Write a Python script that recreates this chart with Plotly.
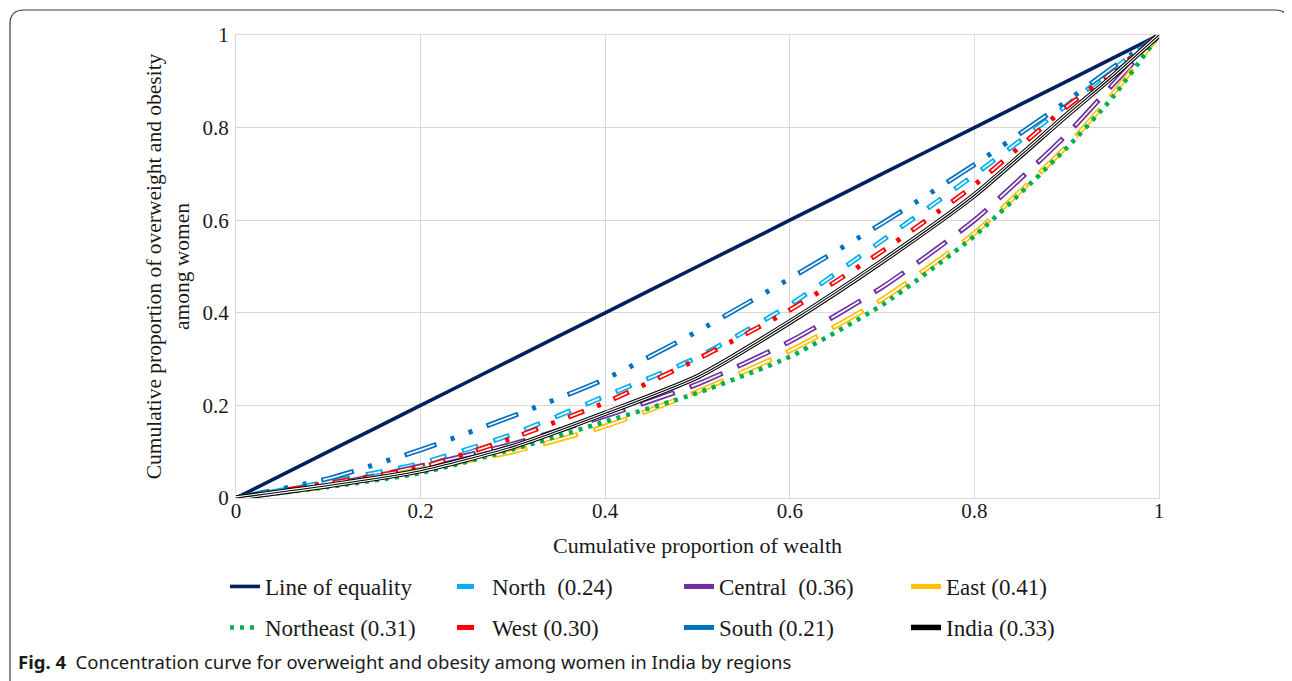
import plotly.graph_objects as go

# ---- data ----
wealth = [0, 0.1, 0.2, 0.3, 0.4, 0.5, 0.6, 0.7, 0.8, 0.9, 0.95, 1.0]
equality = [0, 0.1, 0.2, 0.3, 0.4, 0.5, 0.6, 0.7, 0.8, 0.9, 0.95, 1.0]
north = [0, 0.035, 0.075, 0.138, 0.220, 0.304, 0.417, 0.556, 0.698, 0.848, 0.925, 1.0]
central = [0, 0.028, 0.069, 0.117, 0.177, 0.246, 0.338, 0.455, 0.600, 0.785, 0.893, 1.0]
east = [0, 0.026, 0.062, 0.100, 0.155, 0.230, 0.318, 0.429, 0.572, 0.760, 0.873, 1.0]
northeast = [0, 0.024, 0.054, 0.105, 0.165, 0.227, 0.305, 0.417, 0.566, 0.756, 0.866, 1.0]
west = [0, 0.032, 0.066, 0.130, 0.206, 0.300, 0.406, 0.533, 0.676, 0.845, 0.920, 1.0]
south = [0, 0.042, 0.104, 0.177, 0.257, 0.360, 0.474, 0.593, 0.720, 0.857, 0.930, 1.0]
india = [0, 0.027, 0.059, 0.111, 0.183, 0.262, 0.380, 0.511, 0.654, 0.827, 0.911, 1.0]

series_names = ["Line of equality", "North\u00a0 (0.24)", "Central\u00a0 (0.36)", "East (0.41)",
                "Northeast (0.31)", "West (0.30)", "South (0.21)", "India (0.33)"]
series_values = [equality, north, central, east, northeast, west, south, india]

tick_vals = [0, 0.2, 0.4, 0.6, 0.8, 1.0]
tick_text = ["0", "0.2", "0.4", "0.6", "0.8", "1"]

x_title = "Cumulative proportion of wealth" + "\u00a0" * 7
y_title = "Cumulative proportion of overweight and obesity<br>among women"
caption = "<b>Fig. 4</b>\u00a0 Concentration curve for overweight and obesity among women in India by regions"

# ---- styles ----
# (color, width, dash, overlay list [(color, width, dash)], legend id)
styles = [
    ("#002060", 3.6, "solid", [], "legend"),
    ("#00B0F0", 5, "17px,16px", [("white", 1.7, "0px,2px,13px,18px")], "legend"),
    ("#7030A0", 5, "36px,16px", [("white", 1.7, "0px,2px,32px,18px")], "legend"),
    ("#FFC000", 5, "36px,16px", [("white", 1.7, "0px,2px,32px,18px")], "legend"),
    ("#00B050", 4.6, "4px,6px", [], "legend2"),
    ("#FF0000", 5, "17px,14px,4px,14px", [("white", 1.7, "0px,2px,13px,34px")], "legend2"),
    ("#0070C0", 5, "34px,15px,4px,15px,4px,15px", [("white", 1.7, "0px,2px,30px,55px")], "legend2"),
    ("#000000", 5.5, "solid", [("white", 3.4, "solid"), ("#000000", 1.1, "solid")], "legend2"),
]

fig = go.Figure()
for i, (name, vals) in enumerate(zip(series_names, series_values)):
    color, width, dash, overlays, leg = styles[i]
    fig.add_trace(go.Scatter(
        x=wealth, y=vals, name=name, mode="lines", legend=leg, legendgroup=f"g{i}",
        line=dict(color=color, width=width, dash=dash, shape="spline", smoothing=0.6),
        hoverinfo="x+y+name",
    ))
    for (oc, ow, od) in overlays:
        fig.add_trace(go.Scatter(
            x=wealth, y=vals, name=name, mode="lines", legend=leg, legendgroup=f"g{i}",
            showlegend=False, hoverinfo="skip",
            line=dict(color=oc, width=ow, dash=od, shape="spline", smoothing=0.6),
        ))

# ---- layout geometry (page pixels; the page body adds an 8px offset) ----
OFF = 8
W, H = 1292 - OFF, 681 - OFF
PLOT_L, PLOT_R, PLOT_T, PLOT_B = 236, 1159, 35, 498  # page coordinates of plot area
ML, MT = PLOT_L - OFF, PLOT_T - OFF
MR, MB = W - (PLOT_R - OFF), H - (PLOT_B - OFF)
PW, PH = PLOT_R - PLOT_L, PLOT_B - PLOT_T


def px_x(px):
    return (px - PLOT_L) / PW


def px_y(py):
    return (PLOT_B - py) / PH


serif = "Liberation Serif, Times New Roman, serif"
grid = "#D9D9D9"
ink = "#1a1a1a"

legend_common = dict(orientation="h", xanchor="left", yanchor="top",
                     entrywidth=182, entrywidthmode="pixels",
                     font=dict(family=serif, size=23, color=ink),
                     bgcolor="rgba(0,0,0,0)", itemwidth=30, tracegroupgap=0)

fig.update_layout(
    width=W, height=H,
    margin=dict(l=ML, r=MR, t=MT, b=MB, autoexpand=False),
    paper_bgcolor="white", plot_bgcolor="white",
    font=dict(family=serif, size=21, color=ink),
    showlegend=True,
    legend=dict(x=px_x(225), y=px_y(565), **legend_common),
    legend2=dict(x=px_x(225), y=px_y(606), **legend_common),
    xaxis=dict(range=[0, 1], tickvals=tick_vals, ticktext=tick_text, showgrid=True, gridcolor=grid,
               gridwidth=1.3, zeroline=False, showline=True, linecolor=grid, linewidth=1.3, mirror=True,
               ticks="", ticklabelstandoff=-6, tickfont=dict(family=serif, size=21, color=ink),
               title=dict(text=x_title, font=dict(family=serif, size=22, color=ink), standoff=15),
               fixedrange=True),
    yaxis=dict(range=[0, 1], tickvals=tick_vals, ticktext=tick_text, showgrid=True, gridcolor=grid,
               gridwidth=1.3, zeroline=False, showline=True, linecolor=grid, linewidth=1.3, mirror=True,
               ticks="", ticklabelstandoff=2, tickfont=dict(family=serif, size=21, color=ink),
               title=dict(text=y_title, font=dict(family=serif, size=21.5, color=ink), standoff=6),
               fixedrange=True),
)

# caption
fig.add_annotation(text=caption, xref="paper", yref="paper", x=px_x(16), y=px_y(662),
                   xanchor="left", yanchor="middle", showarrow=False,
                   font=dict(family="Noto Sans, Open Sans, sans-serif", size=18.5, color=ink))

# figure frame (rounded top corners, open at the bottom)
r = 14
x0, x1, y0, yb = px_x(10), px_x(1289), px_y(10), px_y(700)
rx, ry = r / PW, r / PH
path = (f"M {x0},{yb} L {x0},{y0 - ry} Q {x0},{y0} {x0 + rx},{y0} "
        f"L {x1 - rx},{y0} Q {x1},{y0} {x1},{y0 - ry} L {x1},{yb}")
fig.add_shape(type="path", path=path, xref="paper", yref="paper",
              line=dict(color="#3a3a3a", width=1.2), layer="below")

fig.write_html("out.html")
